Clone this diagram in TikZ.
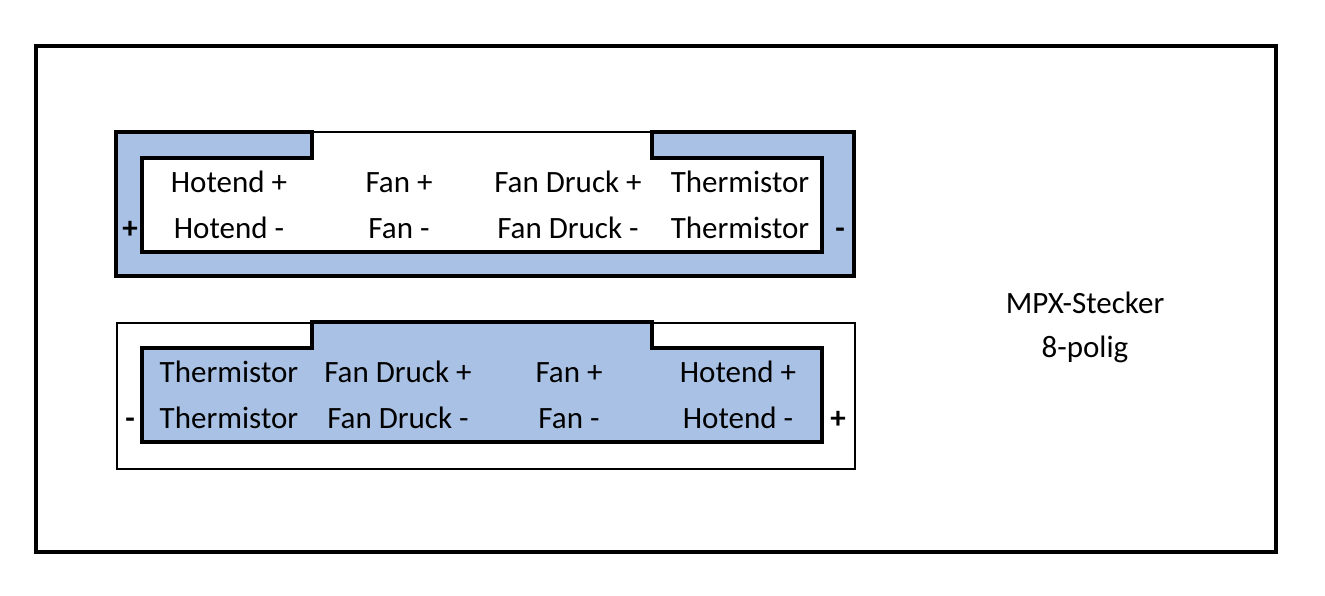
\documentclass[tikz,border=0pt]{standalone}
\usepackage{fontspec}
\setmainfont{Carlito}
\definecolor{pinblue}{RGB}{168,193,228}
\begin{document}
\begin{tikzpicture}[x=1pt,y=-1pt,
  thickline/.style={line width=3.6pt},
  thinline/.style={line width=1.6pt},
  lbl/.style={font=\fontsize{31}{34}\selectfont, inner sep=0pt, anchor=base},
  pol/.style={font=\bfseries\fontsize{31}{34}\selectfont, inner sep=0pt, anchor=base}]
\useasboundingbox (0,0) rectangle (1325,595);
% outer frame
\draw[thickline] (36,46) rectangle (1276,552);
% ---- top connector ----
\fill[pinblue] (116,132) rectangle (854,276);
\fill[white] (142,158) rectangle (822,252);
\fill[white] (312,132) rectangle (652,160);
\draw[thickline] (312,132) -- (116,132) -- (116,276) -- (854,276) -- (854,132) -- (652,132) -- (652,158) -- (822,158) -- (822,252) -- (142,252) -- (142,158) -- (312,158) -- cycle;
\draw[thinline] (312,132) -- (652,132);
% ---- bottom connector ----
\draw[thinline] (117,323) rectangle (855,469);
\draw[thickline, fill=pinblue] (142,348) -- (312,348) -- (312,322) -- (652,322) -- (652,348) -- (822,348) -- (822,442) -- (142,442) -- cycle;
% top labels
\node[lbl] (t1a) at (229,192) {Hotend +};
\node[lbl] (t2a) at (399,192) {Fan +};
\node[lbl] (t3a) at (568,192) {Fan Druck +};
\node[lbl] (t4a) at (740,192) {Thermistor};
\node[lbl] (t1b) at (229,238) {Hotend -};
\node[lbl] (t2b) at (399,238) {Fan -};
\node[lbl] (t3b) at (568,238) {Fan Druck -};
\node[lbl] (t4b) at (740,238) {Thermistor};
\node[pol] (tplus) at (130,238) {+};
\node[pol] (tminus) at (840,238) {-};
% bottom labels
\node[lbl] (b1a) at (229,382) {Thermistor};
\node[lbl] (b2a) at (398,382) {Fan Druck +};
\node[lbl] (b3a) at (569,382) {Fan +};
\node[lbl] (b4a) at (738,382) {Hotend +};
\node[lbl] (b1b) at (229,428) {Thermistor};
\node[lbl] (b2b) at (398,428) {Fan Druck -};
\node[lbl] (b3b) at (569,428) {Fan -};
\node[lbl] (b4b) at (738,428) {Hotend -};
\node[pol] (bminus) at (130,428) {-};
\node[pol] (bplus) at (838,428) {+};
% MPX
\node[lbl] (mpx1) at (1085,313) {MPX-Stecker};
\node[lbl] (mpx2) at (1085,357) {8-polig};
\end{tikzpicture}
\end{document}
